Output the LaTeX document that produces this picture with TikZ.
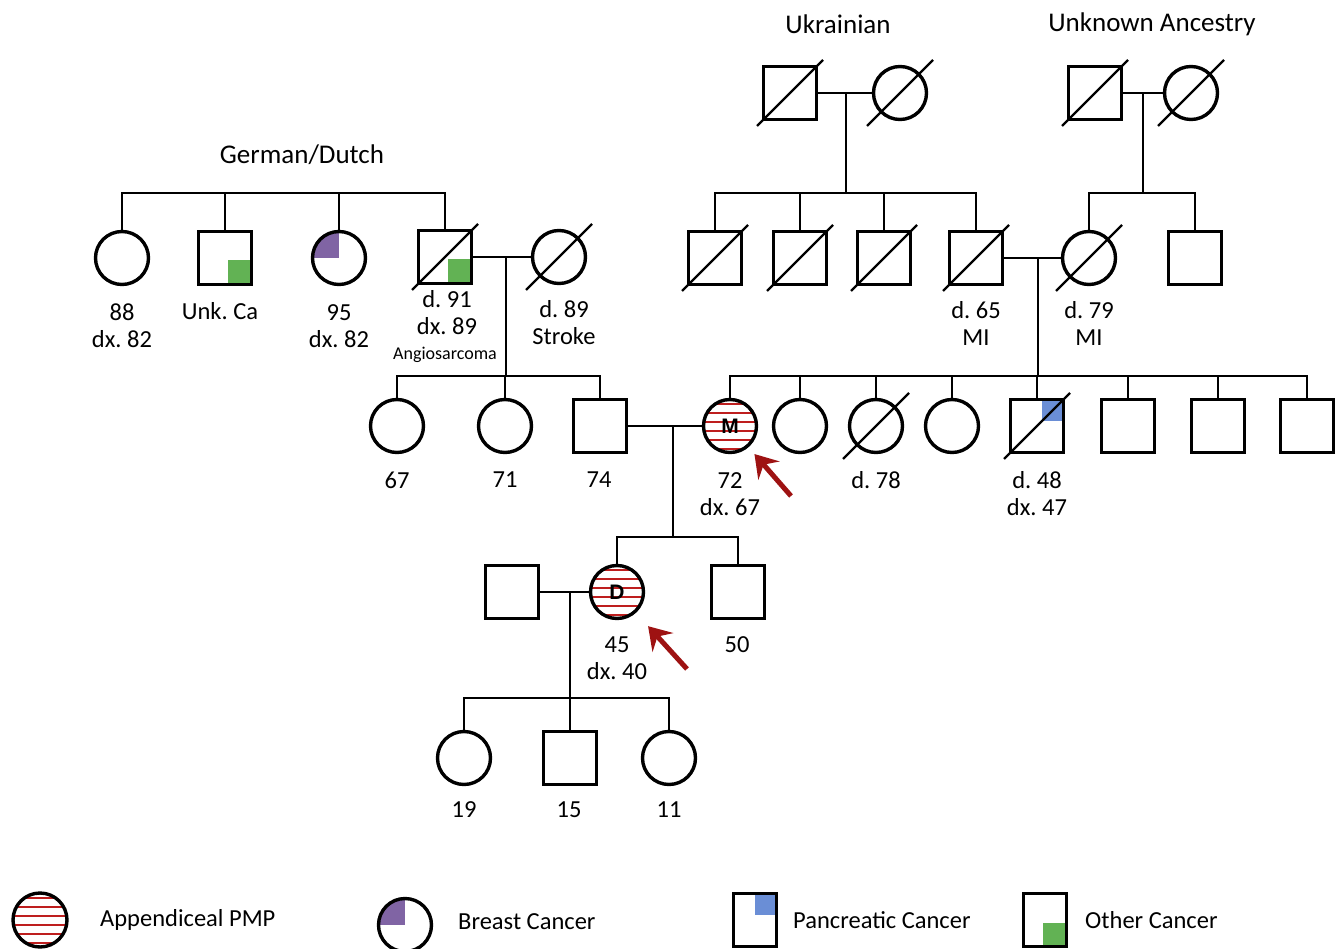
\documentclass[tikz,border=0pt]{standalone}
\usepackage{fontspec}
\setmainfont{Carlito}
\newfontfamily\letterfont{Liberation Sans}
\usetikzlibrary{arrows.meta,positioning}
\frenchspacing

\definecolor{pmpred}{RGB}{190,30,30}
\definecolor{arrowred}{RGB}{158,18,18}
\definecolor{ocgreen}{RGB}{98,178,84}
\definecolor{bcpurple}{RGB}{128,100,164}
\definecolor{pcblue}{RGB}{106,142,214}

\tikzset{
  male/.style = {draw, rectangle, line width=3.4pt, minimum size=53pt, inner sep=0pt},
  female/.style = {draw, circle, line width=3.4pt, minimum size=53pt, inner sep=0pt},
  pmp/.style = {path picture={
      \foreach \k in {-22.5,-13.5,-4.5,4.5,13.5,22.5}
        \draw[pmpred, line width=2pt] ([yshift=\k pt]path picture bounding box.west) -- ([yshift=\k pt]path picture bounding box.east);}},
  other/.style = {path picture={\fill[ocgreen] (path picture bounding box.south east) rectangle ++(-24,-24);}},
  pancreatic/.style = {path picture={\fill[pcblue] (path picture bounding box.north east) rectangle ++(-22,21);}},
  breast/.style = {path picture={\fill[bcpurple] (path picture bounding box.center) rectangle (path picture bounding box.north west);}},
  line/.style = {line width=2pt},
  slash/.style = {line width=2.3pt},
  proband/.style = {draw=arrowred, line width=5pt, -{Stealth[length=22pt, width=28pt, inset=8pt]}},
  lab/.style = {align=center, font=\fontsize{24.5}{27}\selectfont, inner sep=0pt},
  head/.style = {font=\fontsize{27}{32}\selectfont, inner sep=0pt},
  small/.style = {font=\fontsize{18}{20}\selectfont, inner sep=0pt},
  letter/.style = {font=\letterfont\bfseries\fontsize{21}{21}\selectfont}
}

\begin{document}
\begin{tikzpicture}[x=1pt, y=-1pt]
  \useasboundingbox (0,0) rectangle (1343,949);

  % ancestry headings
  \node[head] (ukrT) at (838,24) {Ukrainian};
  \node[head] (unkT) at (1152,24) {Unknown Ancestry};
  \node[head] (gdT) at (302,155) {German/Dutch};

  % generation I
  \node[male] (ukrF) at (790,93) {};
  \node[female] (ukrM) at (900,93) {};
  \node[male] (unkF) at (1095,93) {};
  \node[female] (unkM) at (1191,93) {};

  % generation II, father's side
  \node[female] (gd1) at (122,258) {};
  \node[male, other] (gd2) at (225,258) {};
  \node[female, breast] (gd3) at (339,258) {};
  \node[male, other] (gpa) at (445,257) {};
  \node[female] (gma) at (559,257) {};

  % generation II, mother's side
  \node[male] (uk1) at (715,258) {};
  \node[male] (uk2) at (800,258) {};
  \node[male] (uk3) at (884,258) {};
  \node[male] (mgpa) at (976,258) {};
  \node[female] (mgma) at (1089,258) {};
  \node[male] (un2) at (1195,258) {};

  % generation III
  \node[female] (pat1) at (397,426) {};
  \node[female] (pat2) at (505,426) {};
  \node[male] (dad) at (600,426) {};
  \node[female, pmp, letter] (mom) at (730,426) {M};
  \node[female] (m1) at (800,426) {};
  \node[female] (m2) at (876,426) {};
  \node[female] (m3) at (952,426) {};
  \node[male, pancreatic] (m4) at (1037,426) {};
  \node[male] (m5) at (1128,426) {};
  \node[male] (m6) at (1218,426) {};
  \node[male] (m7) at (1307,426) {};

  % generation IV
  \node[male] (spouse) at (512,592) {};
  \node[female, pmp, letter] (dau) at (617,592) {D};
  \node[male] (son) at (738,592) {};

  % generation V
  \node[female] (g1) at (464,758) {};
  \node[male] (g2) at (570,758) {};
  \node[female] (g3) at (669,758) {};

  % deceased
  \foreach \n in {ukrF,ukrM,unkF,unkM,gpa,gma,uk1,uk2,uk3,mgpa,mgma,m2,m4}
    \draw[slash] ([shift={(-33,33)}]\n.center) -- ([shift={(33,-33)}]\n.center);

  % sibship junctions
  \coordinate (ukrJ) at (846,193);
  \coordinate (unkJ) at (1143,193);
  \coordinate (gdJ) at (300,193);
  \coordinate (gpJ) at (506,376);
  \coordinate (mpJ) at (1038,376);
  \coordinate (parJ) at (673,537);
  \coordinate (dJ) at (570,698);

  % couples and descent lines
  \draw[line] (ukrF) -- (ukrM);
  \draw[line] (ukrJ |- ukrF) -- (ukrJ);
  \draw[line] (unkF) -- (unkM);
  \draw[line] (unkJ |- unkF) -- (unkJ);
  \draw[line] (gpa) -- (gma);
  \draw[line] (gpJ |- gpa) -- (gpJ);
  \draw[line] (mgpa) -- (mgma);
  \draw[line] (mpJ |- mgpa) -- (mpJ);
  \draw[line] (dad) -- (mom);
  \draw[line] (parJ |- dad) -- (parJ);
  \draw[line] (spouse) -- (dau);
  \draw[line] (dJ |- dau) -- (dJ);

  % children
  \foreach \c in {uk1,uk2,uk3,mgpa} \draw[line] (\c) |- (ukrJ);
  \foreach \c in {mgma,un2} \draw[line] (\c) |- (unkJ);
  \foreach \c in {gd1,gd2,gd3,gpa} \draw[line] (\c) |- (gdJ);
  \foreach \c in {pat1,pat2,dad} \draw[line] (\c) |- (gpJ);
  \foreach \c in {mom,m1,m2,m3,m4,m5,m6,m7} \draw[line] (\c) |- (mpJ);
  \foreach \c in {dau,son} \draw[line] (\c) |- (parJ);
  \foreach \c in {g1,g2,g3} \draw[line] (\c) |- (dJ);

  % ages and notes
  \node[lab] (gd1L) at (122,326) {88\\dx. 82};
  \node[lab] (gd2L) at (220,311) {Unk. Ca};
  \node[lab] (gd3L) at (339,326) {95\\dx. 82};
  \node[lab] (gpaL) at (447,313) {d. 91\\dx. 89};
  \node[small] (gpaN) at (445,355) {Angiosarcoma};
  \node[lab] (gmaL) at (564,323) {d. 89\\Stroke};
  \node[lab] (mgpaL) at (976,323) {d. 65\\MI};
  \node[lab] (mgmaL) at (1089,323) {d. 79\\MI};
  \node[lab] (pat1L) at (397,480) {67};
  \node[lab] (pat2L) at (505,480) {71};
  \node[lab] (dadL) at (599,480) {74};
  \node[lab] (momL) at (730,494) {72\\dx. 67};
  \node[lab] (m2L) at (876,480) {d. 78};
  \node[lab] (m4L) at (1037,494) {d. 48\\dx. 47};
  \node[lab] (dauL) at (617,658) {45\\dx. 40};
  \node[lab] (sonL) at (737,645) {50};
  \node[lab] (g1L) at (464,810) {19};
  \node[lab] (g2L) at (569,810) {15};
  \node[lab] (g3L) at (669,810) {11};

  % proband arrows
  \coordinate (momA) at (791,496);
  \coordinate (dauA) at (687,669);
  \draw[proband, shorten >=9pt] (momA) -- (mom);
  \draw[proband, shorten >=18pt] (dauA) -- (dau);

  % legend
  \node[female, pmp, minimum size=54pt] (legPMP) at (40,920) {};
  \node[lab, anchor=west] (legPMPt) at (100,920) {Appendiceal PMP};
  \node[female, breast] (legBC) at (405,925) {};
  \node[lab, anchor=west] (legBCt) at (458,922) {Breast Cancer};
  \node[male, pancreatic, minimum width=43pt, minimum height=53pt] (legPC) at (755,920) {};
  \node[lab, anchor=west] (legPCt) at (793,920) {Pancreatic Cancer};
  \node[male, other, minimum width=43pt, minimum height=53pt] (legOC) at (1045,920) {};
  \node[lab, anchor=west] (legOCt) at (1085,920) {Other Cancer};
\end{tikzpicture}
\end{document}
